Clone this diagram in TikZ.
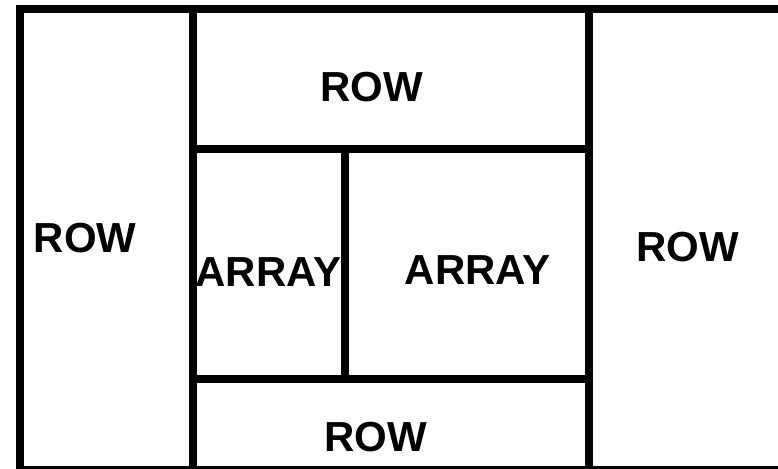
\documentclass[tikz,border=0pt]{standalone}
\usepackage{fontspec}
\setmainfont{Liberation Sans}
\usetikzlibrary{positioning}

\tikzset{
  wall/.style={line width=8pt,line cap=rect},
  cell/.style={inner sep=0pt,font=\bfseries\fontsize{42}{50}\selectfont}
}

\begin{document}
\begin{tikzpicture}[x=1pt,y=-1pt]
  \useasboundingbox (0,0) rectangle (778,468);
  \clip (0,0) rectangle (778,468);
  % outer frame and walls
  \draw[wall] (20,9.3) rectangle (786,470);
  \draw[wall] (192.7,9.3)--(192.7,470);
  \draw[wall] (589.3,9.3)--(589.3,470);
  \draw[wall] (192.7,149.3)--(589.3,149.3);
  \draw[wall] (192.7,379.3)--(589.3,379.3);
  \draw[wall] (344.7,149.3)--(344.7,379.3);
  % labels
  \node[cell] (rowleft) at (85,238.5) {ROW};
  \node[cell] (rowtop) at (371.7,86.7) {ROW};
  \node[cell] (arrayleft) at (268.3,271.7) {ARRAY};
  \node[cell] (arrayright) at (477.5,270) {ARRAY};
  \node[cell] (rowright) at (687.5,246.7) {ROW};
  \node[cell] (rowbottom) at (375.8,436.7) {ROW};
\end{tikzpicture}
\end{document}
